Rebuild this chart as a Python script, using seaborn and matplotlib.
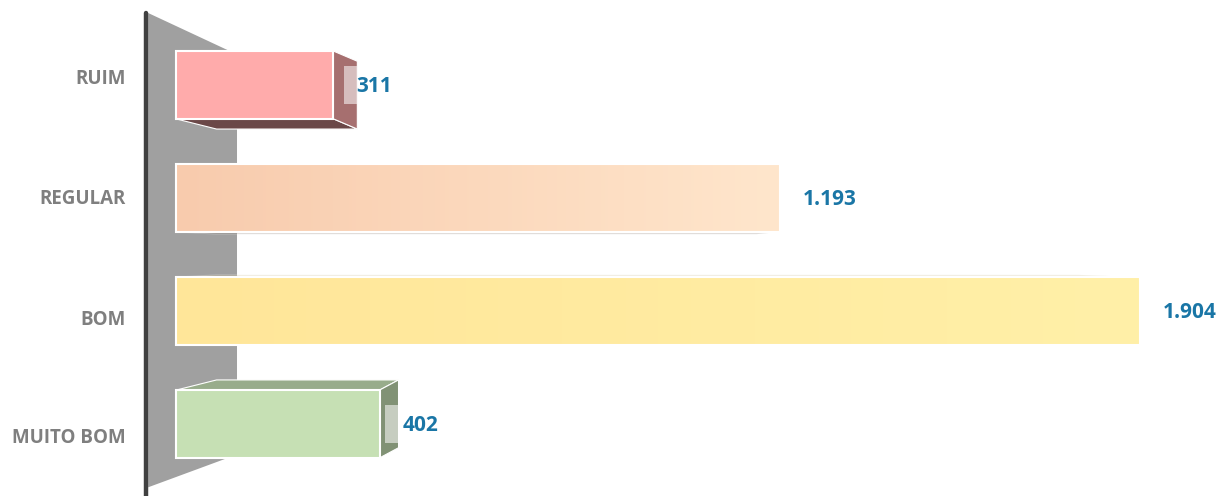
import numpy as np
import matplotlib
matplotlib.use('Agg')
import matplotlib.pyplot as plt
import matplotlib.transforms as mtransforms
from matplotlib.colors import to_rgb
from matplotlib.patches import Polygon, Rectangle
import seaborn as sns

# dados
categories = ['RUIM', 'REGULAR', 'BOM', 'MUITO BOM']
values = [311, 1193, 1904, 402]
colors = ['#FFABAB', '#F8CBAD', '#FFE699', '#C6E0B4']
grad_end = [None, '#FFE6CC', '#FFF0A8', None]

sns.set_theme(style='white')
plt.rcParams['font.family'] = ['Open Sans', 'DejaVu Sans']

fig = plt.figure(figsize=(12.19, 4.96), dpi=100)
ax = fig.add_axes([140 / 1219, 0, 1079 / 1219, 1])

sns.barplot(x=values, y=categories, hue=categories, palette=colors, legend=False,
            orient='h', width=0.6, saturation=1, edgecolor='white', linewidth=1.5, ax=ax)

XLIM = (-71.1, 2060)
YLIM = (3.637, -0.752)

# parede lateral cinza (efeito 3D)
wall = Polygon([(-55, -0.637), (120.5, -0.27), (120.5, 3.27), (-55, 3.56)],
               closed=True, facecolor='#A0A0A0', edgecolor='none', zorder=0.5)
ax.add_patch(wall)
ax.plot([-58.3, -58.3], [-0.64, 3.8], color='#404040', lw=3.2,
        solid_capstyle='round', zorder=0.6)

# profundidade das barras
VX, KX = 756, 0.106
depth_dy = [0.09, 0.02, -0.02, -0.09]


def shade(c, f):
    r, g, b = to_rgb(c)
    return (r * f, g * f, b * f)


for p in ax.patches[:]:
    if not isinstance(p, Rectangle) or p is wall:
        continue
    h = p.get_height()
    yc = p.get_y() + h / 2
    i = int(round(yc))
    if i < 0 or i >= len(values):
        continue
    p.set_zorder(2)
    x0, x1 = p.get_x(), p.get_x() + p.get_width()
    y0, y1 = p.get_y(), p.get_y() + h
    dy = depth_dy[i]
    bx0 = x0 + (VX - x0) * KX
    bx1 = x1 + (VX - x1) * KX
    a = min(1.0, abs(dy) / 0.09)
    if dy > 0:
        face = Polygon([(x0, y1), (x1, y1), (bx1, y1 + dy), (bx0, y1 + dy)],
                       facecolor=shade(colors[i], 0.42), edgecolor='white', lw=0.8,
                       alpha=a, zorder=1)
    else:
        face = Polygon([(x0, y0), (x1, y0), (bx1, y0 + dy), (bx0, y0 + dy)],
                       facecolor=shade(colors[i], 0.77), edgecolor='white', lw=0.8,
                       alpha=a, zorder=1)
    ax.add_patch(face)
    if bx1 > x1:
        side = Polygon([(x1, y0), (bx1, y0 + dy), (bx1, y1 + dy), (x1, y1)],
                       facecolor=shade(colors[i], 0.65), edgecolor='white', lw=0.8, zorder=1.2)
        ax.add_patch(side)
        ax.add_patch(Rectangle((bx1 - 26, yc - 0.165), 26, 0.33, facecolor='white',
                               alpha=0.55, edgecolor='none', zorder=1.3))
    if grad_end[i] is not None:
        c0 = np.array(to_rgb(colors[i]))
        c1 = np.array(to_rgb(grad_end[i]))
        t = np.linspace(0, 1, 256)[:, None]
        img = (c0 + (c1 - c0) * t)[None, :, :]
        ax.imshow(img, extent=(x0, x1, y1, y0), aspect='auto', zorder=1.9,
                  interpolation='bilinear')
        p.set_facecolor('none')

    label = f'{values[i]:,}'.replace(',', '.')
    ax.annotate(label, xy=(x1, yc), xytext=(16.5, -1), textcoords='offset points',
                ha='left', va='center', color='#1A76A6', fontsize=15,
                fontweight='bold', zorder=3)

ax.set_xlim(*XLIM)
ax.set_ylim(*YLIM)
ax.set_xticks([])
ax.set_xlabel('')
ax.set_ylabel('')
for s in ax.spines.values():
    s.set_visible(False)
ax.tick_params(axis='y', length=0, pad=10, labelsize=13.5, labelcolor='#7F7F7F')

label_shift_px = [-8, -1, 6, 11]
for lbl, d in zip(ax.get_yticklabels(), label_shift_px):
    lbl.set_fontweight('bold')
    lbl.set_transform(lbl.get_transform() +
                      mtransforms.ScaledTranslation(0, -d / 100, fig.dpi_scale_trans))

fig.savefig('out.png', dpi=100)
